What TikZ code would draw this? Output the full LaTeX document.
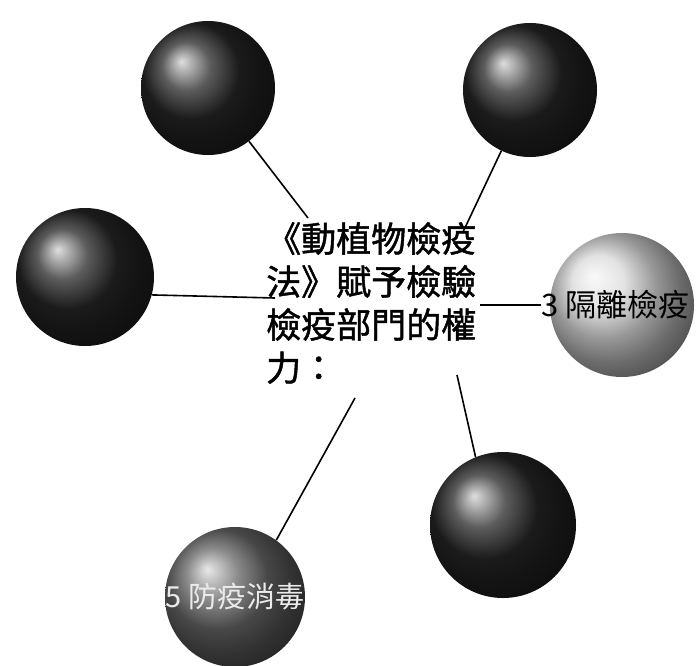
\documentclass[tikz,border=0pt]{standalone}
\usepackage{fontspec}
\setmainfont{Noto Sans CJK TC}
\newfontfamily\medcjk[FakeBold=1.3]{Noto Sans CJK TC}
\usetikzlibrary{shadings}
\begin{document}
\begin{tikzpicture}[x=1pt,y=-1pt,
  ball/.style={circle,inner sep=0pt,minimum size=#1},
  darkball/.style={ball=134pt,ball color=black!85},
  conn/.style={line width=1.6pt,black},
  lbl/.style={inner sep=0pt}]
\useasboundingbox (0,0) rectangle (698,665);
% spheres
\node[darkball] (s1) at (208,88) {};
\node[darkball] (s2) at (530,90) {};
\node[ball=138pt,ball color=black!85] (s3) at (85,277) {};
\node[ball=144pt,ball color=black!15] (s4) at (622,305) {};
\node[ball=146pt,ball color=black!85] (s5) at (503,525) {};
\node[ball=140pt,ball color=black!60] (s6) at (235,597) {};
% sphere labels
\node[lbl,anchor=west,font=\fontsize{31}{34}\selectfont] (l4) at (541,305) {3 隔離檢疫};
\node[lbl,text=white!92!black,font=\fontsize{29}{32}\selectfont] (l6) at (235,597) {5 防疫消毒};
% central text
\node[anchor=north west,align=left,inner sep=0pt,
  font=\fontsize{35}{43}\medcjk\selectfont] (c) at (266,222)
  {《動植物檢疫\\法》賦予檢驗\\檢疫部門的權\\力：};
% connector ends
\coordinate (e1) at (308,218);
\coordinate (e2) at (463,232);
\coordinate (e3) at (275,298);
\coordinate (e4) at (480,305);
\coordinate (e5) at (457,375);
\coordinate (e6) at (355,398);
% connectors
\draw[conn] (s1) -- (e1);
\draw[conn] (s2) -- (e2);
\draw[conn] (s3.-15) -- (e3);
\draw[conn] (e4) -- (l4.west);
\draw[conn] (e5) -- (s5.112);
\draw[conn] (e6) -- (s6.54);
\end{tikzpicture}
\end{document}
